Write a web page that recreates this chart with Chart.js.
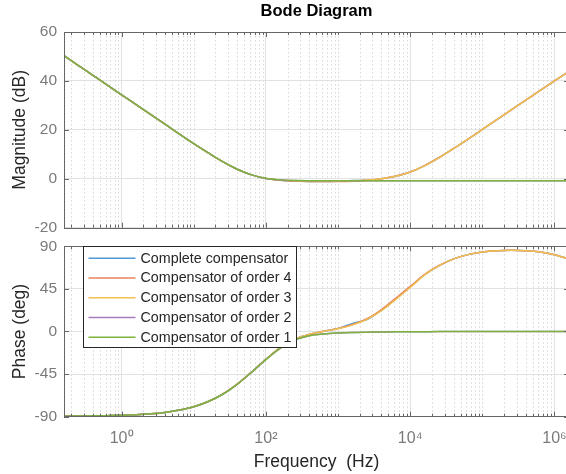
<!DOCTYPE html>
<html>
<head>
<meta charset="utf-8">
<script src="https://cdn.jsdelivr.net/npm/chart.js@4.4.1/dist/chart.umd.min.js"></script>
<style>
  html, body { margin: 0; padding: 0; background: #fff; overflow: hidden; }
  #wrap { position: relative; width: 566px; height: 474px; overflow: hidden; }
  .box { position: absolute; left: 0; width: 633px; }
  #magBox { top: 0; height: 244px; }
  #phaseBox { top: 230px; height: 244px; }
</style>
</head>
<body>
<div id="wrap">
  <div class="box" id="magBox"><canvas id="mag"></canvas></div>
  <div class="box" id="phaseBox"><canvas id="phase"></canvas></div>
</div>
<script>
// frequency grid (Hz), 0.2 decade apart
const freqHz = [0.159, 0.252, 0.4, 0.634, 1, 1.59, 2.52, 4, 6.34, 10,
  15.9, 25.2, 40, 63.4, 100, 159, 252, 400, 634, 1000,
  1590, 2520, 4000, 6340, 10000, 15900, 25200, 40000, 63400, 100000,
  159000, 252000, 400000, 634000, 1000000, 1590000];

const seriesNames = ['Complete compensator', 'Compensator of order 4',
  'Compensator of order 3', 'Compensator of order 2', 'Compensator of order 1'];
const seriesColors = ['#4f9ad4', '#e8825c', '#f1bf52', '#a77cbc', '#7db43d'];

// magnitude (dB)
const magComplete = [50.3, 46.3, 42.3, 38.3, 34.3, 30.3, 26.3, 22.3, 18.3, 14.4,
  10.6, 7.0, 3.9, 1.6, 0.1, -0.6, -0.95, -1.1, -1.15, -1.05,
  -0.7, -0.65, 0.0, 1.05, 2.75, 5.4, 8.7, 12.4, 16.25, 20.15,
  24.15, 28.14, 32.14, 36.12, 40.03, 43.9];
const magOrder4 = [50.3, 46.3, 42.3, 38.3, 34.3, 30.3, 26.3, 22.3, 18.3, 14.4,
  10.6, 7.0, 3.9, 1.6, 0.1, -0.6, -0.95, -1.1, -1.15, -1.15,
  -1.0, -0.6, 0.05, 1.1, 2.8, 5.4, 8.7, 12.4, 16.25, 20.15,
  24.15, 28.14, 32.14, 36.12, 40.03, 43.9];
const magOrder3 = [50.3, 46.3, 42.3, 38.3, 34.3, 30.3, 26.3, 22.3, 18.3, 14.4,
  10.6, 7.0, 3.9, 1.6, 0.15, -0.5, -0.8, -0.95, -1.0, -1.0,
  -0.85, -0.55, 0.0, 1.0, 2.7, 5.35, 8.66, 12.37, 16.24, 20.15,
  24.15, 28.14, 32.14, 36.12, 40.03, 43.9];
const magOrder2 = [50.3, 46.3, 42.3, 38.3, 34.3, 30.3, 26.3, 22.3, 18.3, 14.4,
  10.6, 7.0, 3.9, 1.6, 0.15, -0.5, -0.75, -0.82, -0.84, -0.85,
  -0.85, -0.85, -0.85, -0.85, -0.85, -0.85, -0.85, -0.85, -0.85, -0.85,
  -0.85, -0.85, -0.85, -0.85, -0.85, -0.85];
const magOrder1 = [50.3, 46.3, 42.3, 38.3, 34.3, 30.3, 26.3, 22.3, 18.3, 14.4,
  10.6, 7.0, 3.9, 1.6, 0.2, -0.45, -0.7, -0.78, -0.82, -0.84,
  -0.85, -0.85, -0.85, -0.85, -0.85, -0.85, -0.85, -0.85, -0.85, -0.85,
  -0.85, -0.85, -0.85, -0.85, -0.85, -0.85];

// phase (deg)
const phaseComplete = [-89.5, -89.3, -89.1, -88.9, -88.6, -88.0, -87.0, -85.5, -83.0, -79.5,
  -74.0, -66.2, -55.6, -42.8, -29.3, -16.8, -8.0, -3.0, 0.3, 3.3,
  8.6, 12.6, 22.4, 34.6, 47.0, 60.1, 69.6, 76.7, 81.2, 83.9,
  85.3, 85.8, 85.3, 83.9, 81.1, 76.5];
const phaseOrder4 = [-89.5, -89.3, -89.1, -88.9, -88.6, -88.0, -87.0, -85.5, -83.0, -79.5,
  -74.0, -66.2, -55.6, -42.8, -29.3, -16.8, -8.0, -3.0, 0.3, 3.2,
  7.4, 13.5, 23.2, 35.3, 47.6, 60.4, 69.7, 76.7, 81.2, 83.9,
  85.3, 85.8, 85.3, 83.9, 81.1, 76.5];
const phaseOrder3 = [-89.5, -89.3, -89.1, -88.9, -88.6, -88.0, -87.0, -85.5, -83.0, -79.5,
  -74.0, -66.2, -55.6, -42.8, -29.3, -16.8, -8.0, -3.0, 0.3, 3.0,
  7.0, 12.8, 22.0, 34.0, 46.5, 59.8, 69.6, 76.7, 81.2, 83.9,
  85.3, 85.8, 85.3, 83.9, 81.1, 76.5];
const phaseOrder2 = [-89.5, -89.3, -89.1, -88.9, -88.6, -88.0, -87.0, -85.5, -83.0, -79.5,
  -74.0, -66.3, -55.8, -43.0, -29.7, -17.5, -9.1, -4.6, -2.6, -1.6,
  -1.0, -0.7, -0.5, -0.3, -0.2, -0.15, -0.1, -0.08, -0.05, -0.03,
  -0.02, -0.01, 0, 0, 0, 0];
const phaseOrder1 = [-89.5, -89.3, -89.1, -88.9, -88.6, -88.0, -87.0, -85.5, -83.0, -79.5,
  -74.0, -66.3, -55.8, -43.0, -29.7, -17.5, -9.0, -4.6, -2.6, -1.6,
  -1.0, -0.7, -0.5, -0.3, -0.2, -0.15, -0.1, -0.08, -0.05, -0.03,
  -0.02, -0.01, 0, 0, 0, 0];

const decadeTicks = [1, 100, 10000, 1000000];
const magTicks = [-20, 0, 20, 40, 60];
const phaseTicks = [-90, -45, 0, 45, 90];

const FONT = "'Liberation Sans', Arial, sans-serif";
const TICK_GRAY = '#7a7a7a';
const sup = { 0: '\u2070', 2: '\u00B2', 4: '\u2074', 6: '\u2076' };

function makeDatasets(arrays) {
  return arrays.map((vals, i) => ({
    label: seriesNames[i],
    data: freqHz.map((f, k) => ({ x: f, y: vals[k] })),
    borderColor: seriesColors[i],
    borderWidth: 1.5,
    pointRadius: 0,
    cubicInterpolationMode: 'monotone',
    order: arrays.length - 1 - i
  }));
}

// dotted minor grid, axes box and inward tick marks
const axesDecor = {
  id: 'axesDecor',
  beforeDatasetsDraw(chart) {
    const { ctx, chartArea: a, scales: { x } } = chart;
    ctx.save();
    ctx.beginPath();
    ctx.rect(a.left, a.top, a.right - a.left, a.bottom - a.top);
    ctx.clip();
    ctx.beginPath();
    ctx.strokeStyle = '#d9d9d9';
    ctx.lineWidth = 1;
    ctx.setLineDash([1.5, 2.5]);
    for (let e = -1; e <= 6; e++) {
      for (let m = 1; m <= 9; m++) {
        if (m === 1 && e % 2 === 0) continue;
        const px = Math.round(x.getPixelForValue(m * Math.pow(10, e))) + 0.5;
        ctx.moveTo(px, a.top);
        ctx.lineTo(px, a.bottom);
      }
    }
    ctx.stroke();
    ctx.restore();
  },
  afterDatasetsDraw(chart) {
    const { ctx, chartArea: a, scales: { x, y } } = chart;
    ctx.save();
    ctx.strokeStyle = '#666666';
    ctx.lineWidth = 1;
    ctx.beginPath();
    for (let e = -1; e <= 6; e++) {
      for (let m = 1; m <= 9; m++) {
        const v = m * Math.pow(10, e);
        const px = Math.round(x.getPixelForValue(v)) + 0.5;
        if (px < a.left || px > a.right) continue;
        const len = (m === 1 && e % 2 === 0) ? 5 : 3;
        ctx.moveTo(px, a.top); ctx.lineTo(px, a.top + len);
        ctx.moveTo(px, a.bottom); ctx.lineTo(px, a.bottom - len);
      }
    }
    y.ticks.forEach(t => {
      const py = Math.round(y.getPixelForValue(t.value)) + 0.5;
      ctx.moveTo(a.left, py); ctx.lineTo(a.left + 5, py);
      ctx.moveTo(a.right, py); ctx.lineTo(a.right - 5, py);
    });
    ctx.stroke();
    ctx.strokeRect(Math.round(a.left) + 0.5, Math.round(a.top) + 0.5,
      Math.round(a.right - a.left), Math.round(a.bottom - a.top));
    ctx.restore();
  }
};

// boxed legend in the upper left of the phase axes
const legendBox = {
  id: 'legendBox',
  afterDraw(chart) {
    const ctx = chart.ctx;
    const x0 = 83.5, y0 = 16.5, w = 213, h = 101;
    ctx.save();
    ctx.fillStyle = '#ffffff';
    ctx.fillRect(x0, y0, w, h);
    ctx.strokeStyle = '#262626';
    ctx.lineWidth = 1;
    ctx.strokeRect(x0, y0, w, h);
    ctx.font = '14.3px ' + FONT;
    ctx.textBaseline = 'middle';
    chart.data.datasets.forEach((ds, i) => {
      const yy = y0 + 11.8 + i * 19.75;
      ctx.strokeStyle = ds.borderColor;
      ctx.lineWidth = 1.5;
      ctx.beginPath();
      ctx.moveTo(x0 + 5, yy);
      ctx.lineTo(x0 + 52, yy);
      ctx.stroke();
      ctx.fillStyle = '#262626';
      ctx.fillText(ds.label, x0 + 57, yy + 0.5);
    });
    ctx.restore();
  }
};

function xAxis(withLabels) {
  return {
    type: 'logarithmic',
    min: 0.159,
    max: 1590000,
    afterBuildTicks: s => { s.ticks = decadeTicks.map(v => ({ value: v })); },
    afterFit: s => { s.height = withLabels ? 57.3 : 16; },
    grid: { color: '#e2e2e2', drawTicks: false },
    border: { display: false },
    ticks: {
      display: withLabels,
      autoSkip: false,
      maxRotation: 0,
      padding: 12,
      color: TICK_GRAY,
      font: { family: FONT, size: 16 },
      callback: v => '10' + sup[Math.round(Math.log10(v))]
    },
    title: {
      display: withLabels,
      text: 'Frequency  (Hz)',
      color: '#262626',
      font: { family: FONT, size: 17.5 },
      padding: { top: 0, bottom: 1.5 }
    }
  };
}

function yAxis(min, max, tickVals, label) {
  return {
    min: min,
    max: max,
    afterBuildTicks: s => { s.ticks = tickVals.map(v => ({ value: v })); },
    afterFit: s => { s.width = 64; },
    grid: { color: '#e2e2e2', drawTicks: false },
    border: { display: false },
    ticks: { padding: 7, color: TICK_GRAY, font: { family: FONT, size: 15.5 } },
    title: {
      display: true,
      text: label,
      color: '#262626',
      font: { family: FONT, size: 17.5 },
      padding: { top: 9.5, bottom: 0 }
    }
  };
}

// empty right-hand axis, keeps the plot box centred under the titles
const rightSpacer = {
  position: 'right',
  afterFit: s => { s.width = 64; },
  grid: { display: false, drawTicks: false },
  border: { display: false },
  ticks: { display: false }
};

function baseOptions() {
  return {
    responsive: true,
    maintainAspectRatio: false,
    animation: false,
    events: [],
    layout: { padding: 0 },
    plugins: { legend: { display: false }, tooltip: { enabled: false } }
  };
}

const magOpts = baseOptions();
magOpts.plugins.title = {
  display: true,
  text: 'Bode Diagram',
  color: '#000000',
  font: { family: FONT, size: 16.5, weight: 'bold' },
  padding: { top: 2, bottom: 10.2 }
};
magOpts.scales = {
  x: xAxis(false),
  y: yAxis(-20, 60, magTicks, 'Magnitude (dB)'),
  y2: rightSpacer
};

new Chart(document.getElementById('mag'), {
  type: 'line',
  data: { datasets: makeDatasets([magComplete, magOrder4, magOrder3, magOrder2, magOrder1]) },
  options: magOpts,
  plugins: [axesDecor]
});

const phaseOpts = baseOptions();
phaseOpts.layout = { padding: { top: 12.7 } };
phaseOpts.scales = {
  x: xAxis(true),
  y: yAxis(-90, 90, phaseTicks, 'Phase (deg)'),
  y2: rightSpacer
};

new Chart(document.getElementById('phase'), {
  type: 'line',
  data: { datasets: makeDatasets([phaseComplete, phaseOrder4, phaseOrder3, phaseOrder2, phaseOrder1]) },
  options: phaseOpts,
  plugins: [axesDecor, legendBox]
});
</script>
</body>
</html>
